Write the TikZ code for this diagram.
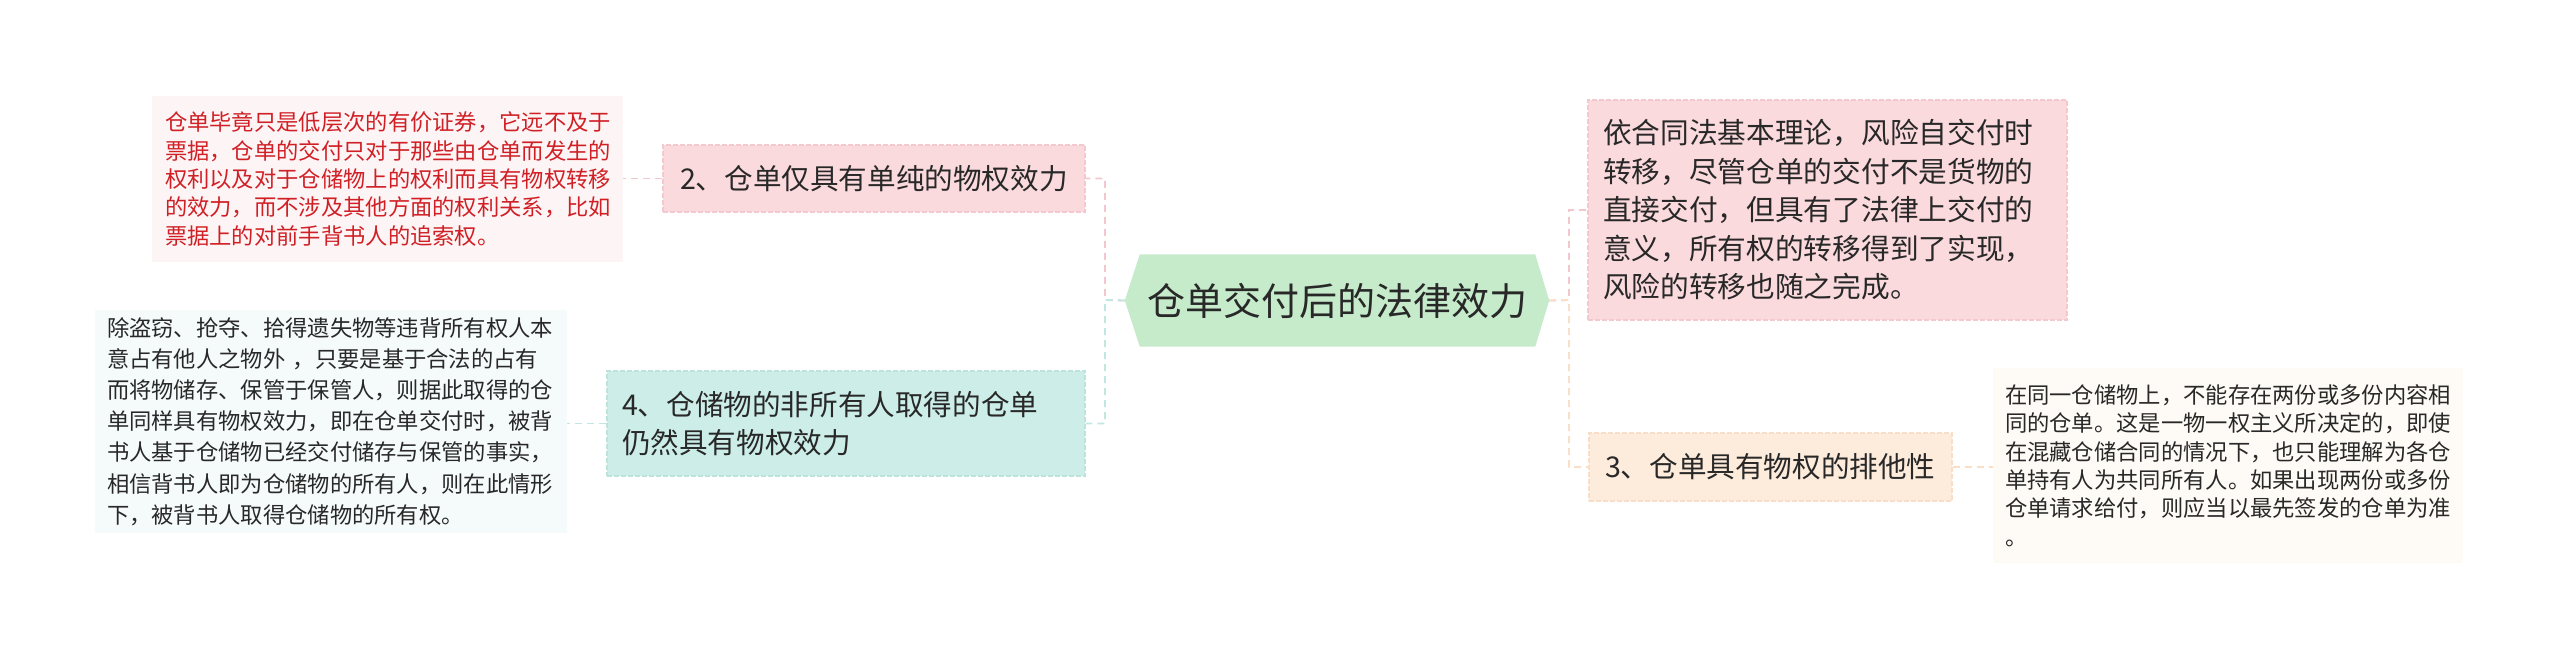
\documentclass[tikz,border=0pt]{standalone}
\usepackage{fontspec}
\newfontfamily\cjk{Noto Sans CJK SC}
\usetikzlibrary{calc}
\definecolor{rootfill}{RGB}{198,235,203}
\definecolor{pinkfill}{RGB}{250,218,221}
\definecolor{pinkedge}{RGB}{243,200,206}
\definecolor{pinkline}{RGB}{242,200,205}
\definecolor{pinkleaf}{RGB}{253,245,245}
\definecolor{tealfill}{RGB}{205,238,232}
\definecolor{tealedge}{RGB}{188,228,221}
\definecolor{tealline}{RGB}{192,231,225}
\definecolor{tealleaf}{RGB}{245,251,250}
\definecolor{peachfill}{RGB}{253,235,219}
\definecolor{peachedge}{RGB}{248,222,200}
\definecolor{peachline}{RGB}{250,222,198}
\definecolor{peachleaf}{RGB}{254,250,245}
\definecolor{txt}{RGB}{40,40,40}
\definecolor{redtxt}{RGB}{208,32,38}
\tikzset{
  base/.style={rectangle, inner ysep=0pt, align=left, text=txt},
  midbox/.style={base, font=\cjk\fontsize{28.6pt}{37.5pt}\selectfont, line width=1.2pt, dash pattern=on 5pt off 2pt},
  leafbox/.style={base, font=\cjk\fontsize{22.3pt}{28.3pt}\selectfont},
  link/.style={line width=1.8pt, dash pattern=on 7pt off 5pt},
}
\begin{document}
\begin{tikzpicture}[x=1pt,y=-1pt]
\useasboundingbox (0,0) rectangle (2560,661);
\fill[white] (0,0) rectangle (2560,661);

% root
\node[base, align=center, font=\cjk\fontsize{38pt}{44pt}\selectfont, minimum width=395pt, minimum height=92pt, inner xsep=0pt] (root) at (1337.5,300.5) {\phantom{仓单交付后的法律效力}};
\fill[rootfill] (root.north west) -- (root.north east) -- ($(root.east)+(14,0)$) -- (root.south east) -- (root.south west) -- ($(root.west)+(-15,0)$) -- cycle;
\node[base, align=center, font=\cjk\fontsize{38pt}{44pt}\selectfont] at (root.center) {仓单交付后的法律效力};
\coordinate (rootL) at ($(root.west)+(-15,0)$);
\coordinate (rootR) at ($(root.east)+(14,0)$);

% left branch
\node[midbox, fill=pinkfill, draw=pinkedge, minimum width=422pt, minimum height=67pt, inner xsep=17pt, text width=388pt] (b2) at (874,178.5) {2、仓单仅具有单纯的物权效力};
\node[leafbox, fill=pinkleaf, text=redtxt, minimum width=471pt, minimum height=166pt, inner xsep=13pt, text width=445pt] (l1) at (387.5,179) {仓单毕竟只是低层次的有价证券，它远不及于\\票据，仓单的交付只对于那些由仓单而发生的\\权利以及对于仓储物上的权利而具有物权转移\\的效力，而不涉及其他方面的权利关系，比如\\票据上的对前手背书人的追索权。};

\node[midbox, fill=tealfill, draw=tealedge, minimum width=478pt, minimum height=105pt, inner xsep=15pt, text width=448pt] (b4) at (846,423.5) {4、仓储物的非所有人取得的仓单\\仍然具有物权效力};
\node[leafbox, fill=tealleaf, font=\cjk\fontsize{22.3pt}{31.2pt}\selectfont, minimum width=472pt, minimum height=223pt, inner xsep=12pt, text width=448pt] (l4) at (331,421.5) {除盗窃、抢夺、拾得遗失物等违背所有权人本\\意占有他人之物外 ，只要是基于合法的占有\\而将物储存、保管于保管人，则据此取得的仓\\单同样具有物权效力，即在仓单交付时，被背\\书人基于仓储物已经交付储存与保管的事实，\\相信背书人即为仓储物的所有人，则在此情形\\下，被背书人取得仓储物的所有权。};

% right branch
\node[midbox, fill=pinkfill, draw=pinkedge, font=\cjk\fontsize{28.7pt}{38.5pt}\selectfont, minimum width=479pt, minimum height=220pt, inner xsep=15pt, text width=449pt] (b1) at (1827.5,210) {依合同法基本理论，风险自交付时\\转移，尽管仓单的交付不是货物的\\直接交付，但具有了法律上交付的\\意义，所有权的转移得到了实现，\\风险的转移也随之完成。};

\node[midbox, fill=peachfill, draw=peachedge, minimum width=363pt, minimum height=68pt, inner xsep=16pt, text width=331pt] (b3) at (1770.5,467) {3、仓单具有物权的排他性};
\node[leafbox, fill=peachleaf, minimum width=470pt, minimum height=195pt, inner xsep=12pt, text width=446pt] (l3) at (2228,465.5) {在同一仓储物上，不能存在两份或多份内容相\\同的仓单。这是一物一权主义所决定的，即使\\在混藏仓储合同的情况下，也只能理解为各仓\\单持有人为共同所有人。如果出现两份或多份\\仓单请求给付，则应当以最先签发的仓单为准\\。};

% connectors
\coordinate (ls) at (1105,300);
\coordinate (rs) at (1569,300);
\draw[link, pinkline] (rootL) -- (ls) |- (b2.east);
\draw[link, tealline] (rootL) -- (ls) |- (b4.east);
\draw[link, pinkline] (rootR) -- (rs) |- (b1.west);
\draw[link, peachline] (rootR) -- (rs) |- (b3.west);
\draw[link, pinkline] (b2.west) -- (l1.east |- b2.west);
\draw[link, tealline] (b4.west) -- (l4.east |- b4.west);
\draw[link, peachline] (b3.east) -- (l3.west |- b3.east);
\end{tikzpicture}
\end{document}
